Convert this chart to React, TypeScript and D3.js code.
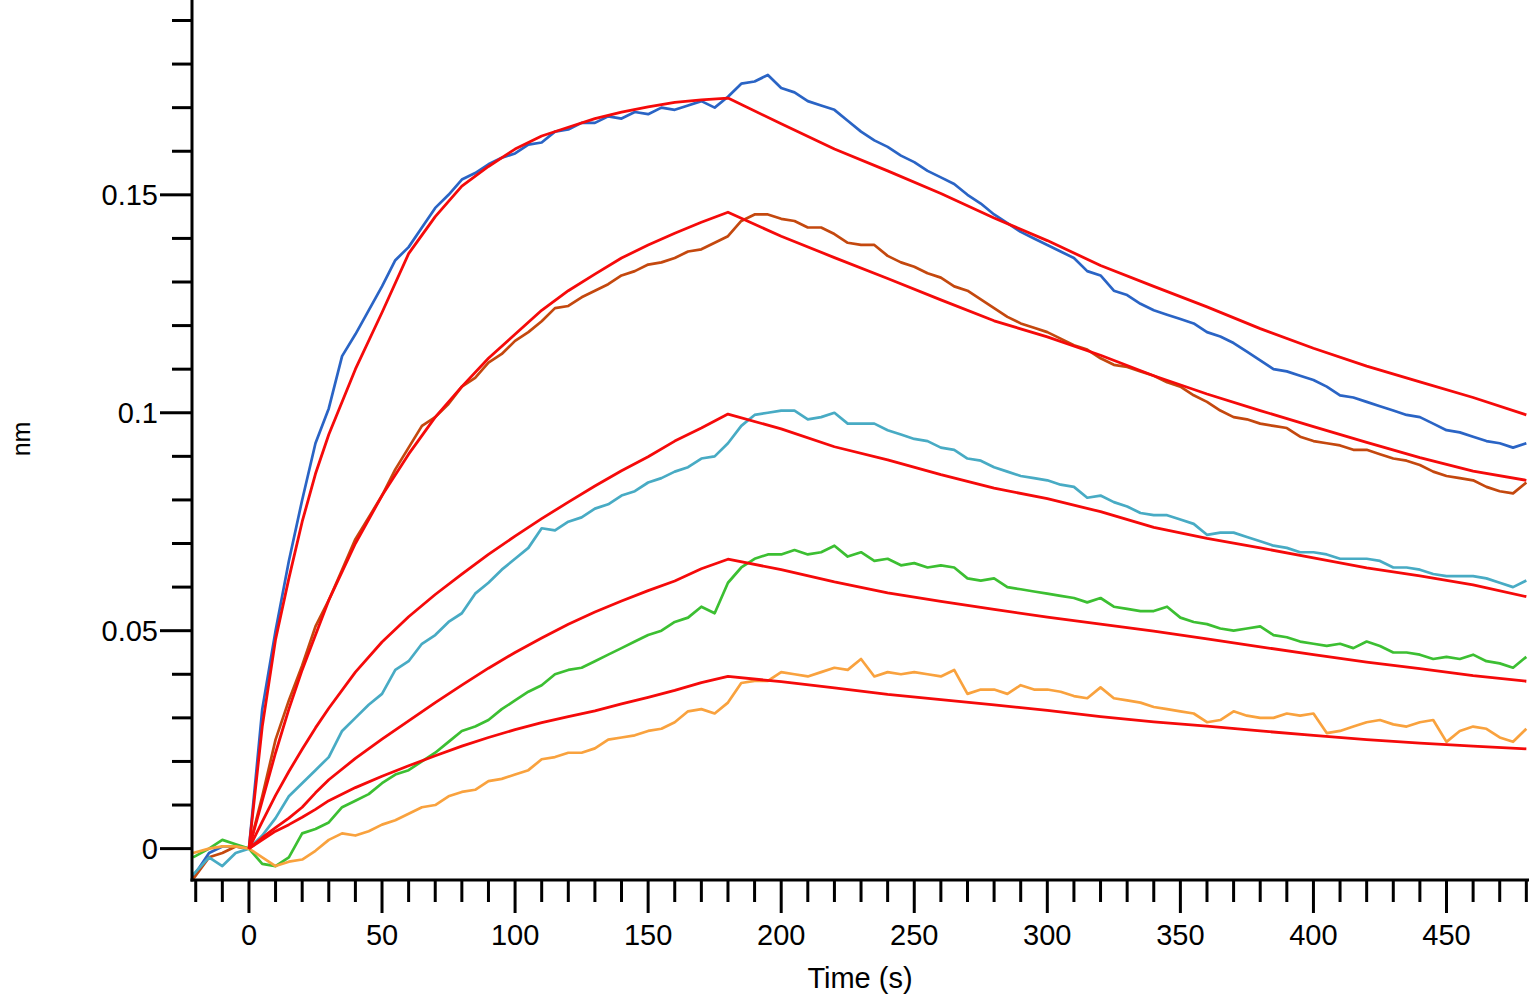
import React from "react"
import * as d3 from "d3"

// sample times (s) of the measured traces
const times = [
  -21, -15, -10, -5,
  0, 5, 10, 15, 20, 25, 30, 35, 40, 45,
  50, 55, 60, 65, 70, 75, 80, 85, 90, 95,
  100, 105, 110, 115, 120, 125, 130, 135, 140, 145,
  150, 155, 160, 165, 170, 175, 180, 185, 190, 195,
  200, 205, 210, 215, 220, 225, 230, 235, 240, 245,
  250, 255, 260, 265, 270, 275, 280, 285, 290, 295,
  300, 305, 310, 315, 320, 325, 330, 335, 340, 345,
  350, 355, 360, 365, 370, 375, 380, 385, 390, 395,
  400, 405, 410, 415, 420, 425, 430, 435, 440, 445,
  450, 455, 460, 465, 470, 475, 480,
]

// sample times (s) of the fitted curves
const fitTimes = [
  0, 5, 10, 15, 20, 25, 30, 40, 50, 60, 70, 80, 90, 100, 110, 120, 130, 140,
  150, 160, 170, 180, 200, 220, 240, 260, 280, 300, 320, 340, 360, 380, 400,
  420, 440, 460, 480,
]

const blueTrace = [
  -0.0065, -0.001, 0.0005, 0.0005,
  0.0, 0.032, 0.05, 0.066, 0.08, 0.093, 0.101, 0.113, 0.118, 0.1235,
  0.129, 0.135, 0.138, 0.1425, 0.147, 0.15, 0.1535, 0.155, 0.157, 0.1585,
  0.1595, 0.1615, 0.162, 0.1645, 0.165, 0.1665, 0.1665, 0.168, 0.1675, 0.169,
  0.1685, 0.17, 0.1695, 0.1705, 0.1715, 0.17, 0.1725, 0.1755, 0.176, 0.1775,
  0.1745, 0.1735, 0.1715, 0.1705, 0.1695, 0.167, 0.1645, 0.1625, 0.161, 0.159,
  0.1575, 0.1555, 0.154, 0.1525, 0.15, 0.148, 0.1455, 0.1435, 0.1415, 0.14,
  0.1385, 0.137, 0.1355, 0.1325, 0.1315, 0.128, 0.127, 0.125, 0.1235, 0.1225,
  0.1215, 0.1205, 0.1185, 0.1175, 0.116, 0.114, 0.112, 0.11, 0.1095, 0.1085,
  0.1075, 0.106, 0.104, 0.1035, 0.1025, 0.1015, 0.1005, 0.0995, 0.099, 0.0975,
  0.096, 0.0955, 0.0945, 0.0935, 0.093, 0.092, 0.093,
]

const brownTrace = [
  -0.007, -0.002, -0.001, 0.0005,
  0.0, 0.012, 0.025, 0.034, 0.042, 0.051, 0.057, 0.064, 0.071, 0.076,
  0.081, 0.087, 0.092, 0.097, 0.099, 0.102, 0.106, 0.108, 0.1115, 0.1135,
  0.1165, 0.1185, 0.121, 0.124, 0.1245, 0.1265, 0.128, 0.1295, 0.1315, 0.1325,
  0.134, 0.1345, 0.1355, 0.137, 0.1375, 0.139, 0.1405, 0.144, 0.1455, 0.1455,
  0.1445, 0.144, 0.1425, 0.1425, 0.141, 0.139, 0.1385, 0.1385, 0.136, 0.1345,
  0.1335, 0.132, 0.131, 0.129, 0.128, 0.126, 0.124, 0.122, 0.1205, 0.1195,
  0.1185, 0.117, 0.1155, 0.1145, 0.1125, 0.111, 0.1105, 0.1095, 0.1085, 0.107,
  0.106, 0.104, 0.1025, 0.1005, 0.099, 0.0985, 0.0975, 0.097, 0.0965, 0.0945,
  0.0935, 0.093, 0.0925, 0.0915, 0.0915, 0.0905, 0.0895, 0.089, 0.088, 0.0865,
  0.0855, 0.085, 0.0845, 0.083, 0.082, 0.0815, 0.084,
]

const cyanTrace = [
  -0.006, -0.002, -0.004, -0.001,
  0.0, 0.003, 0.007, 0.012, 0.015, 0.018, 0.021, 0.027, 0.03, 0.033,
  0.0355, 0.041, 0.043, 0.047, 0.049, 0.052, 0.054, 0.0585, 0.061, 0.064,
  0.0665, 0.069, 0.0735, 0.073, 0.075, 0.076, 0.078, 0.079, 0.081, 0.082,
  0.084, 0.085, 0.0865, 0.0875, 0.0895, 0.09, 0.093, 0.097, 0.0995, 0.1,
  0.1005, 0.1005, 0.0985, 0.099, 0.1, 0.0975, 0.0975, 0.0975, 0.096, 0.095,
  0.094, 0.0935, 0.092, 0.0915, 0.0895, 0.089, 0.0875, 0.0865, 0.0855, 0.085,
  0.0845, 0.0835, 0.083, 0.0805, 0.081, 0.0795, 0.0785, 0.077, 0.0765, 0.0765,
  0.0755, 0.0745, 0.072, 0.0725, 0.0725, 0.0715, 0.0705, 0.0695, 0.069, 0.068,
  0.068, 0.0675, 0.0665, 0.0665, 0.0665, 0.066, 0.0645, 0.0645, 0.064, 0.063,
  0.0625, 0.0625, 0.0625, 0.062, 0.061, 0.06, 0.0615,
]

const greenTrace = [
  -0.002, 0.0, 0.002, 0.001,
  0.0, -0.0035, -0.004, -0.002, 0.0035, 0.0045, 0.006, 0.0095, 0.011, 0.0125,
  0.015, 0.017, 0.018, 0.02, 0.022, 0.0245, 0.027, 0.028, 0.0295, 0.032,
  0.034, 0.036, 0.0375, 0.04, 0.041, 0.0415, 0.043, 0.0445, 0.046, 0.0475,
  0.049, 0.05, 0.052, 0.053, 0.0555, 0.054, 0.061, 0.0645, 0.0665, 0.0675,
  0.0675, 0.0685, 0.0675, 0.068, 0.0695, 0.067, 0.068, 0.066, 0.0665, 0.065,
  0.0655, 0.0645, 0.065, 0.0645, 0.062, 0.0615, 0.062, 0.06, 0.0595, 0.059,
  0.0585, 0.058, 0.0575, 0.0565, 0.0575, 0.0555, 0.055, 0.0545, 0.0545, 0.0555,
  0.053, 0.052, 0.0515, 0.0505, 0.05, 0.0505, 0.051, 0.049, 0.0485, 0.0475,
  0.047, 0.0465, 0.047, 0.046, 0.0475, 0.0465, 0.045, 0.045, 0.0445, 0.0435,
  0.044, 0.0435, 0.0445, 0.043, 0.0425, 0.0415, 0.044,
]

const orangeTrace = [
  -0.001, 0.0, 0.0005, 0.0005,
  0.0, -0.002, -0.004, -0.003, -0.0025, -0.0005, 0.002, 0.0035, 0.003, 0.004,
  0.0055, 0.0065, 0.008, 0.0095, 0.01, 0.012, 0.013, 0.0135, 0.0155, 0.016,
  0.017, 0.018, 0.0205, 0.021, 0.022, 0.022, 0.023, 0.025, 0.0255, 0.026,
  0.027, 0.0275, 0.029, 0.0315, 0.032, 0.031, 0.0335, 0.038, 0.0385, 0.0385,
  0.0405, 0.04, 0.0395, 0.0405, 0.0415, 0.041, 0.0435, 0.0395, 0.0405, 0.04,
  0.0405, 0.04, 0.0395, 0.041, 0.0355, 0.0365, 0.0365, 0.0355, 0.0375, 0.0365,
  0.0365, 0.036, 0.035, 0.0345, 0.037, 0.0345, 0.034, 0.0335, 0.0325, 0.032,
  0.0315, 0.031, 0.029, 0.0295, 0.0315, 0.0305, 0.03, 0.03, 0.031, 0.0305,
  0.031, 0.0265, 0.027, 0.028, 0.029, 0.0295, 0.0285, 0.028, 0.029, 0.0295,
  0.0245, 0.027, 0.028, 0.0275, 0.0255, 0.0245, 0.0275,
]

const blueFit = [
  0, 0.028, 0.048, 0.062, 0.075, 0.086, 0.095, 0.11, 0.123, 0.1365, 0.145,
  0.152, 0.1565, 0.1605, 0.1635, 0.1655, 0.1675, 0.169, 0.1702, 0.1712,
  0.1718, 0.1722, 0.1663, 0.1605, 0.1555, 0.1503, 0.1447, 0.1395, 0.1338,
  0.129, 0.1243, 0.1193, 0.1148, 0.1107, 0.1071, 0.1035, 0.0995,
]

const brownFit = [
  0, 0.011, 0.022, 0.032, 0.041, 0.049, 0.057, 0.07, 0.081, 0.0905, 0.099,
  0.106, 0.1125, 0.118, 0.1235, 0.128, 0.1318, 0.1355, 0.1385, 0.1412,
  0.1437, 0.146, 0.1405, 0.1356, 0.1308, 0.1259, 0.1211, 0.1174, 0.1132,
  0.1085, 0.1043, 0.1005, 0.0968, 0.0932, 0.0897, 0.0866, 0.0845,
]

const cyanFit = [
  0, 0.0062, 0.0122, 0.0177, 0.0228, 0.0277, 0.0322, 0.0405, 0.0474, 0.0532,
  0.0583, 0.063, 0.0675, 0.0717, 0.0757, 0.0795, 0.0832, 0.0867, 0.0899,
  0.0935, 0.0965, 0.0997, 0.0963, 0.0922, 0.0892, 0.0858, 0.0827, 0.0803,
  0.0773, 0.0737, 0.0712, 0.069, 0.0667, 0.0644, 0.0626, 0.0605, 0.0578,
]

const greenFit = [
  0, 0.0025, 0.0048, 0.007, 0.0095, 0.0128, 0.0158, 0.0207, 0.0251, 0.0293,
  0.0335, 0.0375, 0.0414, 0.045, 0.0483, 0.0515, 0.0543, 0.0568, 0.0592,
  0.0614, 0.0642, 0.0664, 0.064, 0.0612, 0.0587, 0.0567, 0.0549, 0.0531,
  0.0515, 0.0499, 0.0481, 0.0463, 0.0445, 0.0428, 0.0413, 0.0397, 0.0384,
]

const orangeFit = [
  0, 0.002, 0.004, 0.0055, 0.0072, 0.009, 0.011, 0.014, 0.0166, 0.019,
  0.0213, 0.0235, 0.0255, 0.0273, 0.0289, 0.0303, 0.0316, 0.0332, 0.0347,
  0.0363, 0.0381, 0.0395, 0.0383, 0.0369, 0.0354, 0.0342, 0.033, 0.0317,
  0.0303, 0.0291, 0.0281, 0.027, 0.026, 0.025, 0.0242, 0.0235, 0.0229,
]

const yTickLabels = ["0", "0.05", "0.1", "0.15"]
const yTickValues = [0, 0.05, 0.1, 0.15]
const xTickValues = [0, 50, 100, 150, 200, 250, 300, 350, 400, 450]

const fitColor = "#f50a0a"

const curves = [
  { key: "blue", color: "#2a64c5", trace: blueTrace, fit: blueFit },
  { key: "brown", color: "#c4480e", trace: brownTrace, fit: brownFit },
  { key: "cyan", color: "#48abc4", trace: cyanTrace, fit: cyanFit },
  { key: "green", color: "#3cbf32", trace: greenTrace, fit: greenFit },
  { key: "orange", color: "#f9a23e", trace: orangeTrace, fit: orangeFit },
]

const W = 1529
const H = 999
const font = "'Liberation Sans', Arial, sans-serif"

export default function App() {
  const axisX = 192
  const axisY = 880

  const x = d3.scaleLinear().domain([-21.4, 481]).range([axisX, W])
  const y = d3.scaleLinear().domain([-0.0072, 0.1947]).range([axisY, 0])

  const line = d3
    .line<[number, number]>()
    .x(d => x(d[0]))
    .y(d => y(d[1]))

  // minor ticks every 10 s / 0.01 nm, skipping the labelled ones
  const xMinor = d3.range(-20, 481, 10).filter(t => t % 50 !== 0)
  const yMinor = d3.range(1, 20).filter(i => i % 5 !== 0).map(i => i / 100)

  return (
    <svg
      width={W}
      height={H}
      style={{ position: "absolute", left: 0, top: 0, background: "#fff" }}
      fontFamily={font}
    >
      <g fill="none" strokeLinejoin="round">
        {curves.map(c => (
          <path
            key={c.key}
            d={line(times.map((t, i) => [t, c.trace[i]] as [number, number])) || ""}
            stroke={c.color}
            strokeWidth={2.7}
          />
        ))}
        {curves.map(c => (
          <path
            key={c.key + "-fit"}
            d={line(fitTimes.map((t, i) => [t, c.fit[i]] as [number, number])) || ""}
            stroke={fitColor}
            strokeWidth={2.8}
          />
        ))}
      </g>

      {/* y axis */}
      <g stroke="#000" strokeWidth={3}>
        <line x1={axisX} x2={axisX} y1={0} y2={axisY + 1.5} />
        {yTickValues.map(v => (
          <line key={v} x1={axisX - 32} x2={axisX} y1={y(v)} y2={y(v)} />
        ))}
        {yMinor.map(v => (
          <line key={v} x1={axisX - 20} x2={axisX} y1={y(v)} y2={y(v)} />
        ))}
      </g>
      <g fontSize={29} textAnchor="end" fill="#000">
        {yTickValues.map((v, i) => (
          <text key={v} x={axisX - 34} y={y(v)} dy="0.35em">
            {yTickLabels[i]}
          </text>
        ))}
      </g>

      {/* x axis */}
      <g stroke="#000" strokeWidth={3}>
        <line x1={axisX - 1.5} x2={W} y1={axisY} y2={axisY} />
        {xTickValues.map(t => (
          <line key={t} x1={x(t)} x2={x(t)} y1={axisY} y2={axisY + 33} />
        ))}
        {xMinor.map(t => (
          <line key={t} x1={x(t)} x2={x(t)} y1={axisY} y2={axisY + 22} />
        ))}
      </g>
      <g fontSize={29} textAnchor="middle" fill="#000">
        {xTickValues.map(t => (
          <text key={t} x={x(t)} y={935} dy="0.35em">
            {t}
          </text>
        ))}
      </g>

      <text x={860} y={978} dy="0.35em" fontSize={29} textAnchor="middle">
        Time (s)
      </text>
      <text
        transform="translate(21,439) rotate(-90)"
        dy="0.35em"
        fontSize={25}
        textAnchor="middle"
      >
        nm
      </text>
    </svg>
  )
}
